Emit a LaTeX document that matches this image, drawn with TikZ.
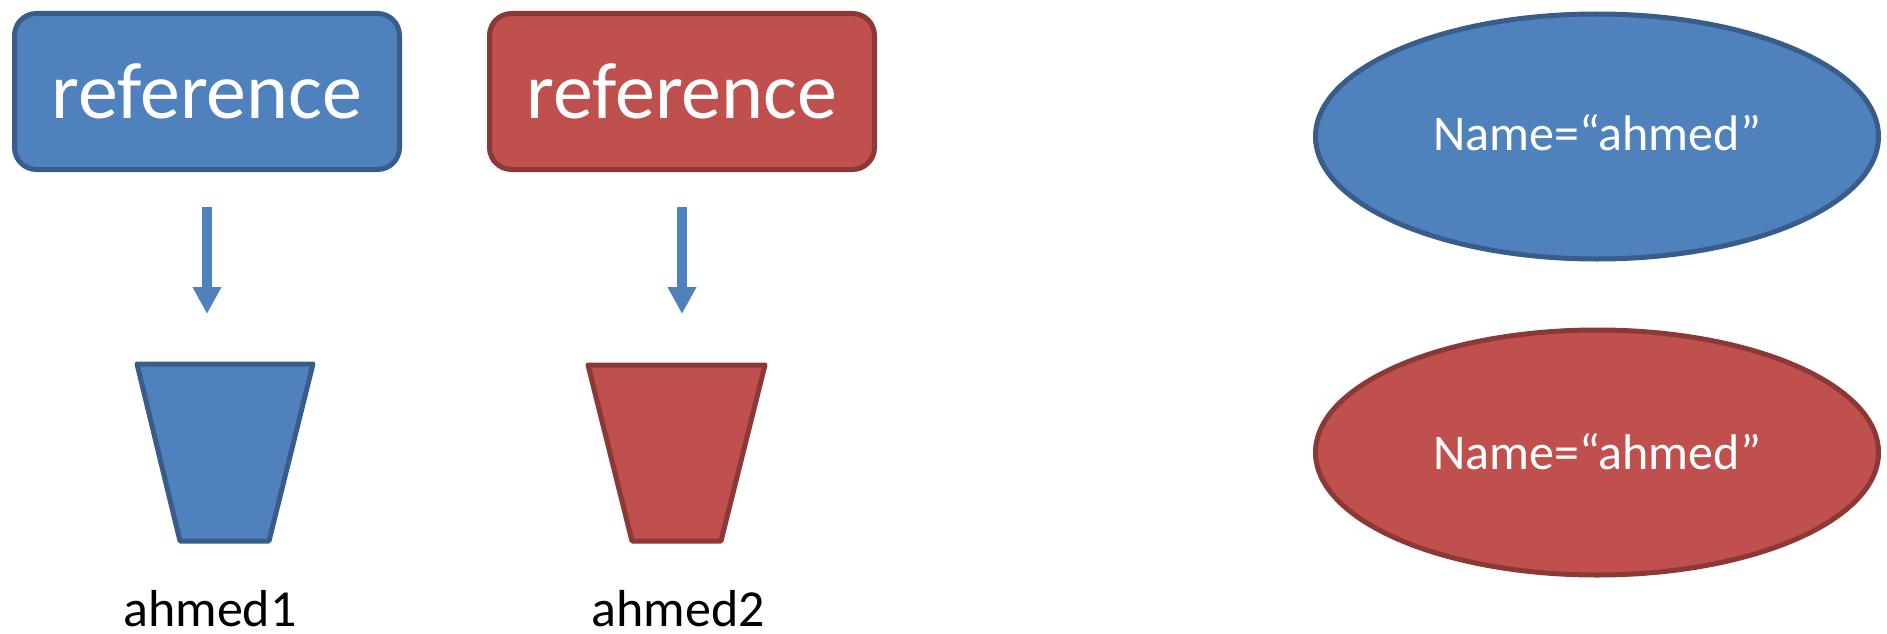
\documentclass[tikz,border=0pt]{standalone}
\usepackage{fontspec}
\setmainfont{Carlito}
\usetikzlibrary{arrows.meta}
\usetikzlibrary{shapes.geometric}
\definecolor{bfill}{HTML}{4F81BD}
\definecolor{bline}{HTML}{385D8A}
\definecolor{rfill}{HTML}{C0504D}
\definecolor{rline}{HTML}{8C3836}
\begin{document}
\begin{tikzpicture}[x=1pt,y=-1pt,
  box/.style={rectangle, rounded corners=22pt, line width=5pt, minimum width=385pt, minimum height=156pt, inner sep=0pt, text=white, font=\fontsize{80}{82}\selectfont},
  trap/.style={line width=5pt, line join=round},
  oval/.style={ellipse, minimum width=563pt, minimum height=245pt, line width=5pt, inner sep=0pt, text=white, font=\fontsize{50}{52}\selectfont},
  lbl/.style={font=\fontsize{52}{54}\selectfont, inner sep=0pt, anchor=base},
  flow/.style={draw=bfill, line width=10pt, -{Triangle[width=27pt,length=27pt]}},
  bluestyle/.style={fill=bfill, draw=bline},
  redstyle/.style={fill=rfill, draw=rline}]
\useasboundingbox (0,0) rectangle (1887,634);
\node[box, bluestyle] (b1) at (207,91.5) {reference};
\node[box, redstyle] (b2) at (682,91.5) {reference};
\draw[trap, bluestyle] (137,364) -- (313,364) -- (269,541) -- (180,541) -- cycle;
\draw[trap, redstyle] (588,365) -- (765,365) -- (721,541) -- (632,541) -- cycle;
\coordinate (t1) at (225,364);
\coordinate (t2) at (676.5,365);
\node[lbl] (l1) at (210,626) {ahmed1};
\node[lbl] (l2) at (678,626) {ahmed2};
\node[oval, bluestyle] (e1) at (1597,136.5) {\raisebox{9pt}{Name=“ahmed”}};
\node[oval, redstyle] (e2) at (1597,452.5) {\raisebox{2pt}{Name=“ahmed”}};
\draw[flow, shorten <=35pt, shorten >=50pt] (b1.south) -- (b1.south |- t1);
\draw[flow, shorten <=35pt, shorten >=51pt] (b2.south) -- (b2.south |- t2);
\end{tikzpicture}
\end{document}
